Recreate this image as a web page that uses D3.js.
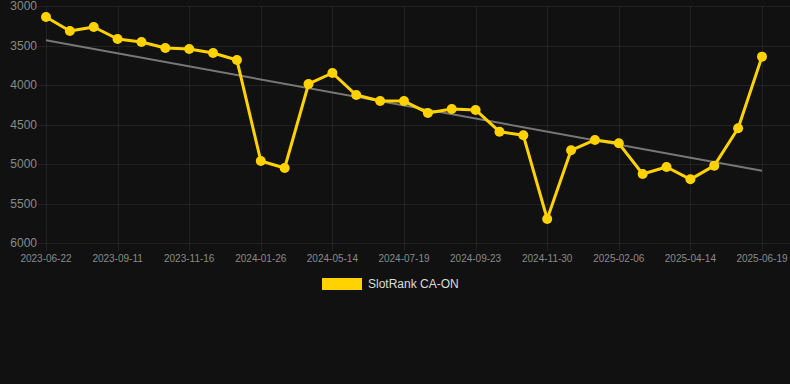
<!DOCTYPE html>
<html><head><meta charset="utf-8">
<script src="https://cdn.jsdelivr.net/npm/d3@7"></script>
<style>html,body{margin:0;padding:0;background:#111111;}svg{display:block;}</style>
</head><body><div id="chart"></div>
<script>
const dates = ["2023-06-22","2023-07-19","2023-08-15","2023-09-11","2023-10-03","2023-10-25","2023-11-16","2023-12-08","2023-12-30","2024-01-26","2024-02-22","2024-05-14","2024-06-05","2024-06-27","2024-07-19","2024-08-10","2024-09-01","2024-09-23","2024-10-15","2024-11-06","2024-11-30","2024-12-22","2025-01-14","2025-02-06","2025-02-28","2025-03-22","2025-04-14","2025-05-06","2025-05-28","2025-06-19","2025-07-10"];
const tickLabels = ["2023-06-22","2023-09-11","2023-11-16","2024-01-26","2024-05-14","2024-07-19","2024-09-23","2024-11-30","2025-02-06","2025-04-14","2025-06-19"];
const ranks = [3140,3316,3266,3418,3456,3532,3544,3595,3684,4962,5051,3987,3848,4127,4203,4203,4354,4304,4316,4591,4637,5696,4827,4696,4738,5127,5038,5194,5021,4548,3641];
const yTicks = [3000,3500,4000,4500,5000,5500,6000];
const seriesName = "SlotRank CA-ON";

(function () {
const W = 790, H = 384;
const mLeft = 46, mRight = 762, mTop = 6, mBottom = 243;
const svg = d3.select("#chart").append("svg").attr("width", W).attr("height", H);
svg.append("rect").attr("width", W).attr("height", H).attr("fill", "#111111");

const idx = d3.range(ranks.length);
const x = d3.scaleLinear().domain([0, ranks.length - 1]).range([mLeft, mRight]);
const y = d3.scaleLinear().domain([3000, 6000]).range([mTop, mBottom]);
const tickIdx = idx.filter(i => i % 3 === 0);

svg.append("g").selectAll("line").data(yTicks).join("line")
  .attr("x1", 38).attr("x2", W).attr("y1", d => Math.round(y(d)) + 0.5).attr("y2", d => Math.round(y(d)) + 0.5)
  .attr("stroke", "rgba(255,255,255,0.07)").attr("stroke-width", 1);
svg.append("g").selectAll("line").data(tickIdx).join("line")
  .attr("x1", i => Math.round(x(i)) + 0.5).attr("x2", i => Math.round(x(i)) + 0.5)
  .attr("y1", mTop).attr("y2", mBottom + 8)
  .attr("stroke", "rgba(255,255,255,0.07)").attr("stroke-width", 1);

svg.append("g").selectAll("text").data(yTicks).join("text")
  .attr("x", 37).attr("y", d => y(d)).attr("dy", "0.35em")
  .attr("text-anchor", "end").attr("fill", "#8a8a8a")
  .attr("font-family", "Liberation Sans, Arial, sans-serif").attr("font-size", 12)
  .text(d => d);
svg.append("g").selectAll("text").data(tickIdx).join("text")
  .attr("x", i => x(i)).attr("y", mBottom + 19)
  .attr("text-anchor", "middle").attr("fill", "#8a8a8a")
  .attr("font-family", "Liberation Sans, Arial, sans-serif").attr("font-size", 10)
  .text((i, k) => tickLabels[k]);

const mx = d3.mean(idx), my = d3.mean(ranks);
const slope = d3.sum(idx, i => (i - mx) * (ranks[i] - my)) / d3.sum(idx, i => (i - mx) * (i - mx));
const icpt = my - slope * mx;
const n = ranks.length - 1;
svg.append("line")
  .attr("x1", x(0)).attr("y1", y(icpt))
  .attr("x2", x(n)).attr("y2", y(icpt + slope * n))
  .attr("stroke", "#777777").attr("stroke-width", 2);

const line = d3.line().x(i => x(i)).y(i => y(ranks[i]));
svg.append("path").datum(idx).attr("d", line)
  .attr("fill", "none").attr("stroke", "#FFD200").attr("stroke-width", 3).attr("stroke-linejoin", "round");
svg.append("g").selectAll("circle").data(idx).join("circle")
  .attr("cx", i => x(i)).attr("cy", i => y(ranks[i])).attr("r", 5)
  .attr("fill", "#FFD200");

svg.append("rect").attr("x", 322).attr("y", 278).attr("width", 40).attr("height", 12).attr("fill", "#FFD200");
svg.append("text").attr("x", 368).attr("y", 284).attr("dy", "0.35em")
  .attr("fill", "#dddddd").attr("font-family", "Liberation Sans, Arial, sans-serif").attr("font-size", 12)
  .text(seriesName);
})();
</script>
</body></html>
